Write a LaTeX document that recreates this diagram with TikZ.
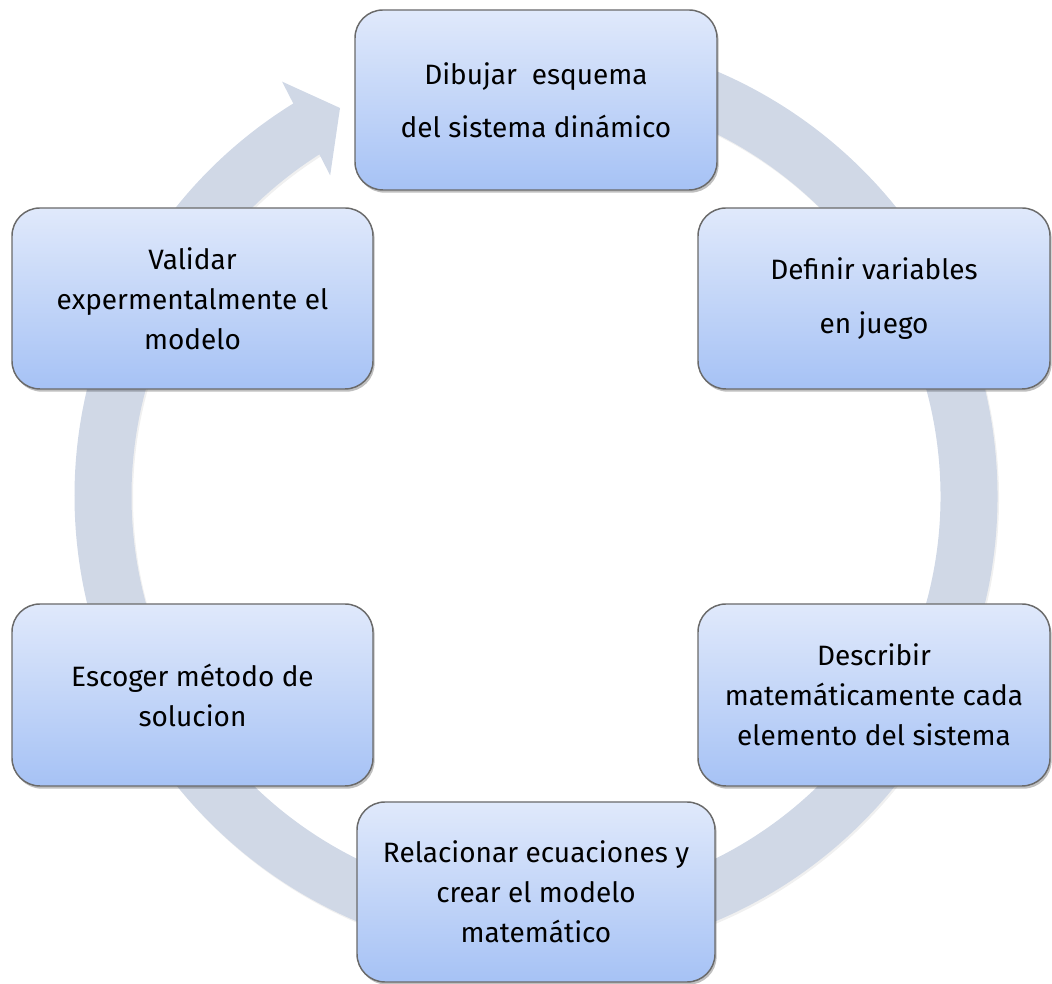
\documentclass[tikz,border=0pt]{standalone}
\usepackage{fontspec}
\setmainfont{Fira Sans}
\usetikzlibrary{shadows}
\definecolor{ringc}{HTML}{D0D8E6}
\definecolor{boxtop}{HTML}{E0E9FB}
\definecolor{boxbot}{HTML}{A6C2F5}
\definecolor{boxline}{HTML}{6A6A6A}
\tikzset{
  stepbox/.style={draw=boxline, line width=1.1pt, rounded corners=21pt,
    top color=boxtop, bottom color=boxbot, align=center, inner sep=0pt,
    font=\fontsize{21}{30}\selectfont,
    drop shadow={shadow xshift=1.2pt, shadow yshift=-2pt, opacity=0.25, fill=black}},
  wide/.style={font=\fontsize{21}{40}\selectfont}
}
\begin{document}
\begin{tikzpicture}[x=0.75pt, y=0.75pt]
\useasboundingbox (0,0) rectangle (1052,984);
\coordinate (C) at (536,488);
% ring shadow
\begin{scope}[shift={(537.5,486)}]
  \draw[black, opacity=0.06, line width=42.75pt] (95:433) arc[start angle=95, end angle=-239, radius=324.75pt];
\end{scope}
% ring
\begin{scope}[shift={(C)}]
  \draw[ringc, line width=42.75pt] (95:433) arc[start angle=95, end angle=-239, radius=324.75pt];
  \coordinate (b1) at (121.5:486);
  \coordinate (tip) at (116.8:434.7);
  \coordinate (b2) at (122.7:381);
  \fill[ringc] (b1) -- (tip) -- (b2) -- cycle;
\end{scope}
% boxes
\node[stepbox, wide, minimum width=271.5pt, minimum height=135pt] (top) at (536,884)
  {Dibujar\ \ esquema\\del sistema dinámico};
\node[stepbox, wide, minimum width=264pt, minimum height=135.75pt] (rt) at (874,685.5)
  {Definir variables\\en juego};
\node[stepbox, minimum width=264pt, minimum height=136.5pt] (rb) at (874,289)
  {Describir\\matemáticamente cada\\elemento del sistema};
\node[stepbox, minimum width=268.5pt, minimum height=135pt] (bot) at (536,92)
  {Relacionar ecuaciones y\\crear el modelo\\matemático};
\node[stepbox, minimum width=270.75pt, minimum height=136.5pt] (lb) at (192.5,289)
  {Escoger método de\\solucion};
\node[stepbox, minimum width=270.75pt, minimum height=135.75pt] (lt) at (192.5,685.5)
  {Validar\\expermentalmente el\\modelo};
\end{tikzpicture}
\end{document}
